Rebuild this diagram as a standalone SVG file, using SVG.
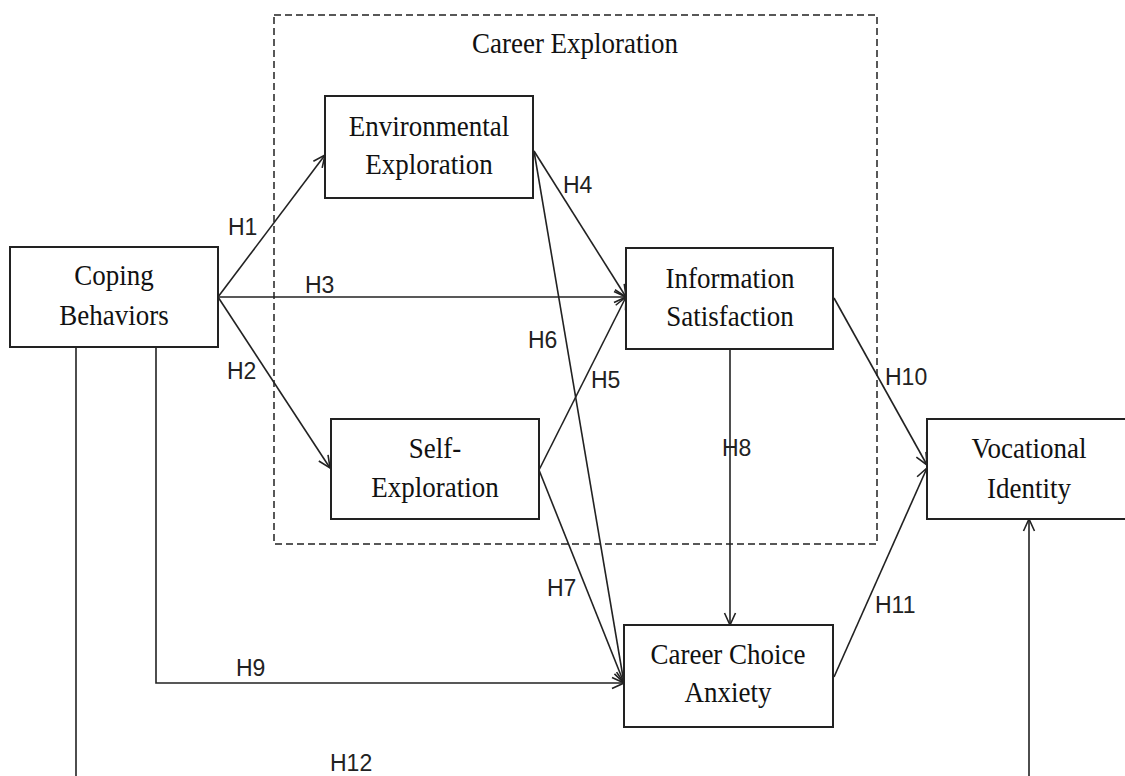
<svg xmlns="http://www.w3.org/2000/svg" width="1125" height="776" viewBox="0 0 1125 776">
<defs>
<style>
.box{fill:#fff;stroke:#222;stroke-width:2}
.grp{fill:none;stroke:#222;stroke-width:1.5;stroke-dasharray:7,4}
.ln{fill:none;stroke:#222;stroke-width:1.6}
.t{font-family:"Liberation Serif","Times New Roman",serif;font-size:27px;fill:#111;text-anchor:middle}
.h{font-family:"Liberation Sans",Arial,sans-serif;font-size:23px;fill:#222}
</style>
<marker id="arr" viewBox="0 0 14 14" refX="13" refY="7" markerWidth="14" markerHeight="14" markerUnits="userSpaceOnUse" orient="auto">
<path d="M1,1.5 L13,7 L1,12.5" fill="none" stroke="#222" stroke-width="1.6"/>
</marker>
</defs>
<rect width="1125" height="776" fill="#fff"/>

<g id="career-exploration">
<rect class="grp" x="274" y="15" width="603" height="529"/>
<text class="t" transform="translate(575 53) scale(1 1.12)">Career Exploration</text>
</g>

<g id="connectors">
<line class="ln" x1="218" y1="297" x2="325" y2="155" marker-end="url(#arr)"/>
<line class="ln" x1="218" y1="297" x2="626" y2="297" marker-end="url(#arr)"/>
<line class="ln" x1="218" y1="297" x2="330" y2="468" marker-end="url(#arr)"/>
<line class="ln" x1="534" y1="151" x2="626" y2="297" marker-end="url(#arr)"/>
<line class="ln" x1="534" y1="151" x2="624" y2="683" marker-end="url(#arr)"/>
<line class="ln" x1="539" y1="470" x2="626" y2="297" marker-end="url(#arr)"/>
<line class="ln" x1="539" y1="470" x2="624" y2="683" marker-end="url(#arr)"/>
<line class="ln" x1="730" y1="349" x2="730" y2="625" marker-end="url(#arr)"/>
<polyline class="ln" points="156,347 156,683 624,683" marker-end="url(#arr)"/>
<line class="ln" x1="834" y1="298" x2="927" y2="465" marker-end="url(#arr)"/>
<line class="ln" x1="834" y1="677" x2="927" y2="468" marker-end="url(#arr)"/>
<polyline class="ln" points="76,347 76,800 1029,800 1029,519" marker-end="url(#arr)"/>
<text class="h" x="228" y="235">H1</text>
<text class="h" x="305" y="293">H3</text>
<text class="h" x="227" y="379">H2</text>
<text class="h" x="563" y="193">H4</text>
<text class="h" x="528" y="348">H6</text>
<text class="h" x="591" y="388">H5</text>
<text class="h" x="547" y="596">H7</text>
<text class="h" x="722" y="456">H8</text>
<text class="h" x="236" y="676">H9</text>
<text class="h" x="885" y="385">H10</text>
<text class="h" x="875" y="613">H11</text>
<text class="h" x="330" y="771">H12</text>
</g>

<g id="coping">
<rect class="box" x="10" y="247" width="208" height="100"/>
<text class="t" transform="translate(114 285) scale(1 1.12)">Coping</text>
<text class="t" transform="translate(114 325) scale(1 1.12)">Behaviors</text>
</g>

<g id="environmental">
<rect class="box" x="325" y="96" width="208" height="102"/>
<text class="t" transform="translate(429 136) scale(1 1.12)">Environmental</text>
<text class="t" transform="translate(429 174) scale(1 1.12)">Exploration</text>
</g>

<g id="self">
<rect class="box" x="331" y="419" width="208" height="100"/>
<text class="t" transform="translate(435 458) scale(1 1.12)">Self-</text>
<text class="t" transform="translate(435 497) scale(1 1.12)">Exploration</text>
</g>

<g id="information">
<rect class="box" x="626" y="248" width="207" height="101"/>
<text class="t" transform="translate(730 288) scale(1 1.12)">Information</text>
<text class="t" transform="translate(730 326) scale(1 1.12)">Satisfaction</text>
</g>

<g id="anxiety">
<rect class="box" x="624" y="625" width="209" height="102"/>
<text class="t" transform="translate(728 664) scale(1 1.12)">Career Choice</text>
<text class="t" transform="translate(728 702) scale(1 1.12)">Anxiety</text>
</g>

<g id="vocational">
<rect class="box" x="927" y="419" width="210" height="100"/>
<text class="t" transform="translate(1029 458) scale(1 1.12)">Vocational</text>
<text class="t" transform="translate(1029 498) scale(1 1.12)">Identity</text>
</g>
</svg>
